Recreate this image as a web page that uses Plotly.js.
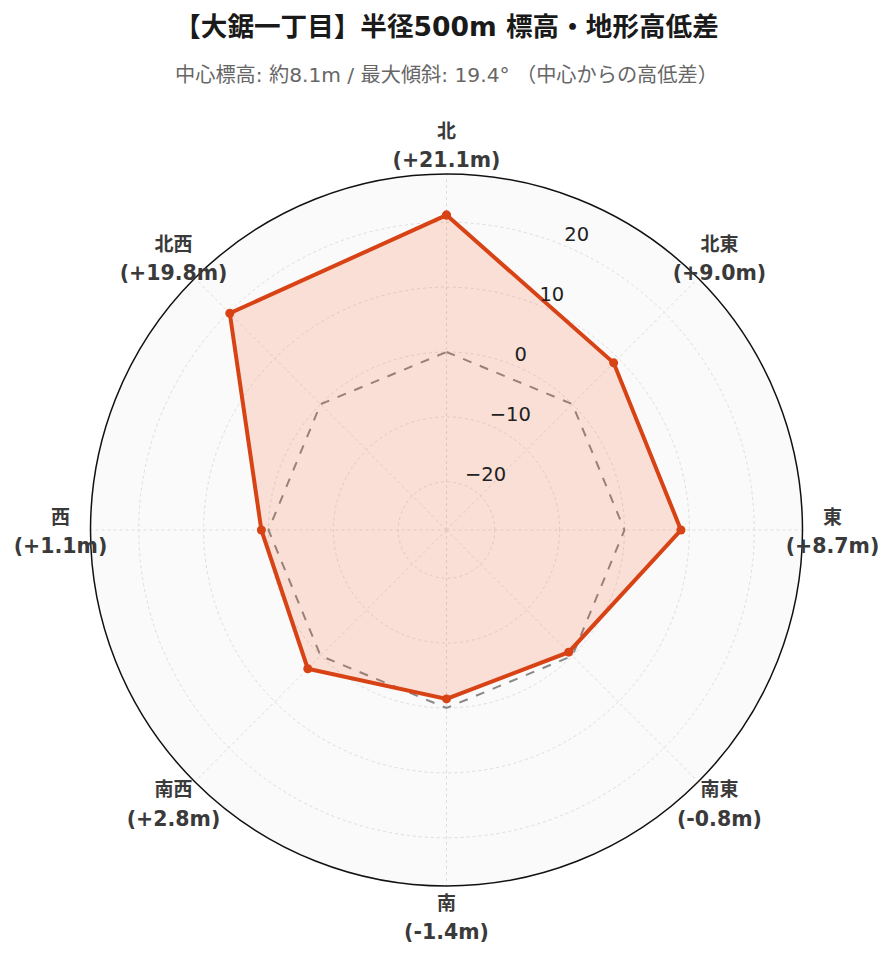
<!DOCTYPE html>
<html><head><meta charset="utf-8">
<script src="https://cdn.plot.ly/plotly-3.0.1.min.js"></script>
<style>body{margin:0;background:#fff}#c{width:893px;height:962px}</style>
</head><body><div id="c"></div>
<script>
const directions = ["北","北東","東","南東","南","南西","西","北西"];
const diffs = [21.1, 9.0, 8.7, -0.8, -1.4, 2.8, 1.1, 19.8];
const zeroRef = [0,0,0,0,0,0,0,0];
const radialTicks = [-20,-10,0,10,20];
const titleText = "【大鋸一丁目】半径500m 標高・地形高低差";
const subtitleText = "中心標高: 約8.1m / 最大傾斜: 19.4° （中心からの高低差）";

const fmt = v => (v >= 0 ? "+" : "") + v.toFixed(1) + "m";
const tickText = directions.map((d,i) =>
  "<b><span style='font-size:19px'>" + d + "</span><br><span style='font-size:20.5px'>(" + fmt(diffs[i]) + ")</span></b>");
const radialText = radialTicks.map(v => (v < 0 ? "\u2212" + Math.abs(v) : String(v)));
const closeArr = a => a.concat([a[0]]);

const FF = "'DejaVu Sans', 'Noto Sans CJK JP', sans-serif";
const maxAbs = Math.max(...diffs.map(Math.abs));
const rMin = -maxAbs*1.3, rMax = maxAbs*1.3;

// geometry (pixels) of the chart
const W = 893, H = 962, CX = 446.5, CY = 530, R = 356, RL = 400, LABEL_PX = 386, LABEL_DY = 2.5;
const domFor = (rad, dy) => ({x:[(CX-rad)/W, (CX+rad)/W], y:[(H-CY-dy-rad)/H, (H-CY-dy+rad)/H]});
const rMaxOuter = rMin + (rMax - rMin)*RL/R;
const labelR = rMin + (rMax - rMin)*LABEL_PX/R;
const radialLabelAngle = 22.5;   // clockwise from north

const traces = [
  {type:"scatterpolar", r: closeArr(zeroRef), theta: closeArr(directions), mode:"lines",
   line:{color:"#888888", width:2, dash:"dash"}, hoverinfo:"skip", showlegend:false},
  {type:"scatterpolar", r: closeArr(diffs), theta: closeArr(directions), mode:"lines+markers",
   fill:"toself", fillcolor:"rgba(255,87,34,0.16)",
   line:{color:"#d84315", width:4}, marker:{color:"#d84315", size:9}, showlegend:false},
  {type:"scatterpolar", subplot:"polar2", r: radialTicks, theta: radialTicks.map(() => radialLabelAngle),
   mode:"text", text: radialText, textposition:"top right", cliponaxis:false,
   textfont:{size:19.5, color:"#222", family:FF}, hoverinfo:"skip", showlegend:false},
  {type:"scatterpolar", subplot:"polar3", r: directions.map(() => labelR), theta: directions, mode:"text",
   text: tickText, textposition:"middle center", cliponaxis:false,
   textfont:{size:22.5, color:"#3a3a3a", family:FF}, hoverinfo:"skip", showlegend:false}
];

const layout = {
  width:W, height:H,
  paper_bgcolor:"#ffffff",
  font:{family:FF, color:"#444"},
  margin:{l:0, r:0, t:0, b:0},
  title:{text:"<b>"+titleText+"</b>", x:0.5, xanchor:"center", y:1-27/H, yanchor:"middle",
         font:{size:26.6, color:"#1a1a1a", family:FF}},
  annotations:[{text:subtitleText, xref:"paper", yref:"paper", x:0.5, y:1-75/H,
    xanchor:"center", yanchor:"middle", showarrow:false,
    font:{size:20.2, color:"#666", family:FF}}],
  polar:{
    domain:domFor(R, 0),
    bgcolor:"#fafafa",
    radialaxis:{range:[rMin, rMax], tickvals:radialTicks, angle:67.5,
      showticklabels:false, showline:false, ticks:"", gridcolor:"#dddddd", griddash:"dot"},
    angularaxis:{direction:"clockwise", rotation:90, tickvals:directions, showticklabels:false,
      showline:true, linecolor:"#111", linewidth:1.5, ticks:"",
      gridcolor:"#dddddd", griddash:"dot"}
  },
  polar2:{
    domain:domFor(R, 0),
    bgcolor:"rgba(0,0,0,0)",
    radialaxis:{range:[rMin, rMax], visible:false},
    angularaxis:{type:"linear", thetaunit:"degrees", direction:"clockwise", rotation:90, visible:false}
  },
  polar3:{
    domain:domFor(RL, LABEL_DY),
    bgcolor:"rgba(0,0,0,0)",
    radialaxis:{range:[rMin, rMaxOuter], visible:false},
    angularaxis:{direction:"clockwise", rotation:90, categoryarray:directions, visible:false}
  }
};
Plotly.newPlot("c", traces, layout, {displayModeBar:false});
</script></body></html>
